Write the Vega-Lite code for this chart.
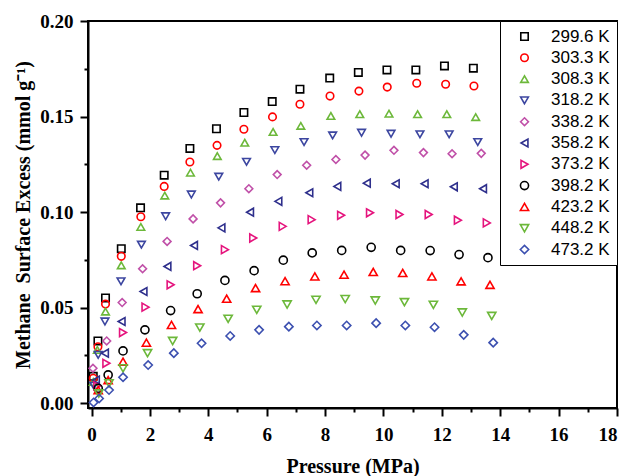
{
  "$schema": "https://vega.github.io/schema/vega-lite/v6.json",
  "width": 529,
  "height": 387,
  "autosize": {"type": "none"},
  "padding": {"left": 88, "top": 21, "right": 11, "bottom": 68},
  "background": "white",
  "config": {
    "view": {"stroke": "black", "strokeWidth": 2},
    "axis": {
      "grid": false,
      "domainColor": "black",
      "domainWidth": 2,
      "tickColor": "black",
      "tickWidth": 2,
      "tickSize": 8,
      "labelFont": "Liberation Serif",
      "labelFontWeight": "bold",
      "labelFontSize": 19,
      "labelColor": "black",
      "titleFont": "Liberation Serif",
      "titleFontWeight": "bold",
      "titleFontSize": 20,
      "titleColor": "black"
    }
  },
  "data": {
    "values": [
      {"T": "299.6 K", "P": 0.06, "E": 0.014}, {"T": "299.6 K", "P": 0.22, "E": 0.0325}, {"T": "299.6 K", "P": 0.48, "E": 0.055}, {"T": "299.6 K", "P": 1.02, "E": 0.0808}, {"T": "299.6 K", "P": 1.68, "E": 0.1022}, {"T": "299.6 K", "P": 2.49, "E": 0.1193}, {"T": "299.6 K", "P": 3.37, "E": 0.1333}, {"T": "299.6 K", "P": 4.28, "E": 0.1436}, {"T": "299.6 K", "P": 5.22, "E": 0.1521}, {"T": "299.6 K", "P": 6.19, "E": 0.1578}, {"T": "299.6 K", "P": 7.14, "E": 0.1643}, {"T": "299.6 K", "P": 8.16, "E": 0.1701}, {"T": "299.6 K", "P": 9.14, "E": 0.1731}, {"T": "299.6 K", "P": 10.12, "E": 0.1744}, {"T": "299.6 K", "P": 11.11, "E": 0.1744}, {"T": "299.6 K", "P": 12.09, "E": 0.1765}, {"T": "299.6 K", "P": 13.08, "E": 0.1753},
      {"T": "303.3 K", "P": 0.06, "E": 0.013}, {"T": "303.3 K", "P": 0.22, "E": 0.0295}, {"T": "303.3 K", "P": 0.48, "E": 0.0518}, {"T": "303.3 K", "P": 1.02, "E": 0.0768}, {"T": "303.3 K", "P": 1.69, "E": 0.0975}, {"T": "303.3 K", "P": 2.49, "E": 0.1134}, {"T": "303.3 K", "P": 3.37, "E": 0.1262}, {"T": "303.3 K", "P": 4.3, "E": 0.1349}, {"T": "303.3 K", "P": 5.22, "E": 0.1433}, {"T": "303.3 K", "P": 6.2, "E": 0.1498}, {"T": "303.3 K", "P": 7.14, "E": 0.1564}, {"T": "303.3 K", "P": 8.17, "E": 0.1607}, {"T": "303.3 K", "P": 9.16, "E": 0.1633}, {"T": "303.3 K", "P": 10.13, "E": 0.1654}, {"T": "303.3 K", "P": 11.14, "E": 0.1674}, {"T": "303.3 K", "P": 12.13, "E": 0.1669}, {"T": "303.3 K", "P": 13.1, "E": 0.166},
      {"T": "308.3 K", "P": 0.06, "E": 0.011}, {"T": "308.3 K", "P": 0.2, "E": 0.0278}, {"T": "308.3 K", "P": 0.48, "E": 0.0479}, {"T": "308.3 K", "P": 1.02, "E": 0.0721}, {"T": "308.3 K", "P": 1.69, "E": 0.0922}, {"T": "308.3 K", "P": 2.51, "E": 0.1086}, {"T": "308.3 K", "P": 3.39, "E": 0.1206}, {"T": "308.3 K", "P": 4.31, "E": 0.1293}, {"T": "308.3 K", "P": 5.25, "E": 0.1363}, {"T": "308.3 K", "P": 6.22, "E": 0.1419}, {"T": "308.3 K", "P": 7.17, "E": 0.1451}, {"T": "308.3 K", "P": 8.2, "E": 0.1503}, {"T": "308.3 K", "P": 9.19, "E": 0.1512}, {"T": "308.3 K", "P": 10.19, "E": 0.1515}, {"T": "308.3 K", "P": 11.17, "E": 0.1512}, {"T": "308.3 K", "P": 12.17, "E": 0.1512}, {"T": "308.3 K", "P": 13.16, "E": 0.1497},
      {"T": "318.2 K", "P": 0.08, "E": 0.009}, {"T": "318.2 K", "P": 0.23, "E": 0.0252}, {"T": "318.2 K", "P": 0.46, "E": 0.0427}, {"T": "318.2 K", "P": 1.01, "E": 0.0637}, {"T": "318.2 K", "P": 1.71, "E": 0.0829}, {"T": "318.2 K", "P": 2.54, "E": 0.0978}, {"T": "318.2 K", "P": 3.42, "E": 0.1092}, {"T": "318.2 K", "P": 4.36, "E": 0.1185}, {"T": "318.2 K", "P": 5.31, "E": 0.1263}, {"T": "318.2 K", "P": 6.28, "E": 0.1324}, {"T": "318.2 K", "P": 7.28, "E": 0.1366}, {"T": "318.2 K", "P": 8.26, "E": 0.1401}, {"T": "318.2 K", "P": 9.25, "E": 0.1415}, {"T": "318.2 K", "P": 10.26, "E": 0.141}, {"T": "318.2 K", "P": 11.25, "E": 0.1407}, {"T": "318.2 K", "P": 12.25, "E": 0.1407}, {"T": "318.2 K", "P": 13.23, "E": 0.1366},
      {"T": "338.2 K", "P": 0.05, "E": 0.0182}, {"T": "338.2 K", "P": 0.52, "E": 0.0325}, {"T": "338.2 K", "P": 1.05, "E": 0.0526}, {"T": "338.2 K", "P": 1.75, "E": 0.0703}, {"T": "338.2 K", "P": 2.59, "E": 0.0846}, {"T": "338.2 K", "P": 3.48, "E": 0.0964}, {"T": "338.2 K", "P": 4.42, "E": 0.1048}, {"T": "338.2 K", "P": 5.39, "E": 0.1122}, {"T": "338.2 K", "P": 6.36, "E": 0.1196}, {"T": "338.2 K", "P": 7.37, "E": 0.1245}, {"T": "338.2 K", "P": 8.37, "E": 0.1275}, {"T": "338.2 K", "P": 9.37, "E": 0.1298}, {"T": "338.2 K", "P": 10.36, "E": 0.1323}, {"T": "338.2 K", "P": 11.37, "E": 0.1311}, {"T": "338.2 K", "P": 12.35, "E": 0.1305}, {"T": "338.2 K", "P": 13.35, "E": 0.1307},
      {"T": "358.2 K", "P": 0.15, "E": 0.012}, {"T": "358.2 K", "P": 0.46, "E": 0.0261}, {"T": "358.2 K", "P": 1.03, "E": 0.0427}, {"T": "358.2 K", "P": 1.78, "E": 0.0584}, {"T": "358.2 K", "P": 2.6, "E": 0.0715}, {"T": "358.2 K", "P": 3.51, "E": 0.0825}, {"T": "358.2 K", "P": 4.45, "E": 0.0917}, {"T": "358.2 K", "P": 5.43, "E": 0.0999}, {"T": "358.2 K", "P": 6.4, "E": 0.1056}, {"T": "358.2 K", "P": 7.46, "E": 0.1101}, {"T": "358.2 K", "P": 8.42, "E": 0.1134}, {"T": "358.2 K", "P": 9.43, "E": 0.1151}, {"T": "358.2 K", "P": 10.42, "E": 0.1148}, {"T": "358.2 K", "P": 11.41, "E": 0.1148}, {"T": "358.2 K", "P": 12.41, "E": 0.1132}, {"T": "358.2 K", "P": 13.41, "E": 0.1122},
      {"T": "373.2 K", "P": 0.2, "E": 0.009}, {"T": "373.2 K", "P": 0.51, "E": 0.0208}, {"T": "373.2 K", "P": 1.08, "E": 0.0369}, {"T": "373.2 K", "P": 1.85, "E": 0.0502}, {"T": "373.2 K", "P": 2.71, "E": 0.0619}, {"T": "373.2 K", "P": 3.62, "E": 0.0719}, {"T": "373.2 K", "P": 4.57, "E": 0.0803}, {"T": "373.2 K", "P": 5.54, "E": 0.0864}, {"T": "373.2 K", "P": 6.55, "E": 0.0925}, {"T": "373.2 K", "P": 7.54, "E": 0.096}, {"T": "373.2 K", "P": 8.55, "E": 0.0983}, {"T": "373.2 K", "P": 9.54, "E": 0.0996}, {"T": "373.2 K", "P": 10.55, "E": 0.0987}, {"T": "373.2 K", "P": 11.55, "E": 0.0987}, {"T": "373.2 K", "P": 12.55, "E": 0.0957}, {"T": "373.2 K", "P": 13.54, "E": 0.0943},
      {"T": "398.2 K", "P": 0.23, "E": 0.0077}, {"T": "398.2 K", "P": 0.57, "E": 0.0147}, {"T": "398.2 K", "P": 1.08, "E": 0.0273}, {"T": "398.2 K", "P": 1.83, "E": 0.0383}, {"T": "398.2 K", "P": 2.71, "E": 0.0484}, {"T": "398.2 K", "P": 3.62, "E": 0.0572}, {"T": "398.2 K", "P": 4.57, "E": 0.0642}, {"T": "398.2 K", "P": 5.57, "E": 0.0693}, {"T": "398.2 K", "P": 6.57, "E": 0.0748}, {"T": "398.2 K", "P": 7.56, "E": 0.0786}, {"T": "398.2 K", "P": 8.57, "E": 0.0799}, {"T": "398.2 K", "P": 9.58, "E": 0.0815}, {"T": "398.2 K", "P": 10.59, "E": 0.0799}, {"T": "398.2 K", "P": 11.6, "E": 0.0798}, {"T": "398.2 K", "P": 12.59, "E": 0.0777}, {"T": "398.2 K", "P": 13.58, "E": 0.0761},
      {"T": "423.2 K", "P": 0.23, "E": 0.0068}, {"T": "423.2 K", "P": 0.57, "E": 0.012}, {"T": "423.2 K", "P": 1.08, "E": 0.0217}, {"T": "423.2 K", "P": 1.88, "E": 0.0316}, {"T": "423.2 K", "P": 2.74, "E": 0.0409}, {"T": "423.2 K", "P": 3.65, "E": 0.0492}, {"T": "423.2 K", "P": 4.63, "E": 0.0546}, {"T": "423.2 K", "P": 5.62, "E": 0.0602}, {"T": "423.2 K", "P": 6.63, "E": 0.0638}, {"T": "423.2 K", "P": 7.65, "E": 0.0663}, {"T": "423.2 K", "P": 8.65, "E": 0.0672}, {"T": "423.2 K", "P": 9.65, "E": 0.0686}, {"T": "423.2 K", "P": 10.66, "E": 0.0681}, {"T": "423.2 K", "P": 11.66, "E": 0.0663}, {"T": "423.2 K", "P": 12.66, "E": 0.0637}, {"T": "423.2 K", "P": 13.65, "E": 0.0619},
      {"T": "448.2 K", "P": 0.25, "E": 0.005}, {"T": "448.2 K", "P": 0.6, "E": 0.0103}, {"T": "448.2 K", "P": 1.08, "E": 0.0182}, {"T": "448.2 K", "P": 1.92, "E": 0.0261}, {"T": "448.2 K", "P": 2.78, "E": 0.0325}, {"T": "448.2 K", "P": 3.71, "E": 0.0395}, {"T": "448.2 K", "P": 4.68, "E": 0.0441}, {"T": "448.2 K", "P": 5.66, "E": 0.0488}, {"T": "448.2 K", "P": 6.7, "E": 0.0516}, {"T": "448.2 K", "P": 7.69, "E": 0.054}, {"T": "448.2 K", "P": 8.69, "E": 0.0544}, {"T": "448.2 K", "P": 9.72, "E": 0.0537}, {"T": "448.2 K", "P": 10.72, "E": 0.0528}, {"T": "448.2 K", "P": 11.71, "E": 0.0514}, {"T": "448.2 K", "P": 12.7, "E": 0.0474}, {"T": "448.2 K", "P": 13.71, "E": 0.0456},
      {"T": "473.2 K", "P": 0.07, "E": 0.0003}, {"T": "473.2 K", "P": 0.26, "E": 0.0024}, {"T": "473.2 K", "P": 0.6, "E": 0.0068}, {"T": "473.2 K", "P": 1.08, "E": 0.0135}, {"T": "473.2 K", "P": 1.94, "E": 0.0199}, {"T": "473.2 K", "P": 2.82, "E": 0.0261}, {"T": "473.2 K", "P": 3.77, "E": 0.0313}, {"T": "473.2 K", "P": 4.75, "E": 0.0351}, {"T": "473.2 K", "P": 5.74, "E": 0.0383}, {"T": "473.2 K", "P": 6.76, "E": 0.04}, {"T": "473.2 K", "P": 7.72, "E": 0.0406}, {"T": "473.2 K", "P": 8.74, "E": 0.0406}, {"T": "473.2 K", "P": 9.75, "E": 0.0418}, {"T": "473.2 K", "P": 10.75, "E": 0.0406}, {"T": "473.2 K", "P": 11.75, "E": 0.0397}, {"T": "473.2 K", "P": 12.75, "E": 0.0357}, {"T": "473.2 K", "P": 13.76, "E": 0.0316}
    ]
  },
  "layer": [
    {
      "mark": {"type": "point", "filled": false, "strokeWidth": 1.6, "opacity": 1},
      "encoding": {
        "x": {
          "field": "P", "type": "quantitative",
          "scale": {"domain": [-0.12, 18], "nice": false, "zero": false},
          "axis": {"orient": "bottom", "values": [0, 2, 4, 6, 8, 10, 12, 14, 16, 18], "title": "Pressure (MPa)", "labelPadding": 9, "titlePadding": 12}
        },
        "y": {
          "field": "E", "type": "quantitative",
          "scale": {"domain": [-0.0026, 0.2], "nice": false, "zero": false},
          "axis": {"orient": "left", "values": [0, 0.05, 0.1, 0.15, 0.2], "format": ".2f", "title": "Methane\u00a0 Surface Excess (mmol g\u207b\u00b9)", "labelPadding": 7, "titlePadding": 6}
        },
        "shape": {
          "field": "T", "type": "nominal",
          "scale": {
            "domain": ["299.6 K", "303.3 K", "308.3 K", "318.2 K", "338.2 K", "358.2 K", "373.2 K", "398.2 K", "423.2 K", "448.2 K", "473.2 K"],
            "range": ["square", "circle", "triangle-up", "triangle-down", "diamond", "triangle-left", "triangle-right", "circle", "triangle-up", "triangle-down", "diamond"]
          },
          "legend": {
            "title": null, "orient": "top-right", "offset": 0,
            "strokeColor": "black", "padding": 7, "symbolOffset": 9, "labelOffset": 18, "rowPadding": 3.3,
            "labelFont": "Liberation Sans", "labelFontSize": 17, "labelColor": "black",
            "symbolSize": 45, "symbolStrokeWidth": 1.6, "fillColor": "white",
            "encode": {"legend": {"update": {"strokeWidth": {"value": 1.5}}}}
          }
        },
        "color": {
          "field": "T", "type": "nominal",
          "scale": {
            "domain": ["299.6 K", "303.3 K", "308.3 K", "318.2 K", "338.2 K", "358.2 K", "373.2 K", "398.2 K", "423.2 K", "448.2 K", "473.2 K"],
            "range": ["#000000", "#ff0000", "#6cb83a", "#3c46a0", "#c050a8", "#2e2f8c", "#e5147d", "#000000", "#ff0000", "#6cb83a", "#3c50b0"]
          },
          "legend": {
            "title": null, "orient": "top-right", "offset": 0,
            "strokeColor": "black", "padding": 7, "symbolOffset": 9, "labelOffset": 18, "rowPadding": 3.3,
            "labelFont": "Liberation Sans", "labelFontSize": 17, "labelColor": "black",
            "symbolSize": 45, "symbolStrokeWidth": 1.6, "fillColor": "white",
            "encode": {"legend": {"update": {"strokeWidth": {"value": 1.5}}}}
          }
        },
        "size": {
          "field": "T", "type": "nominal",
          "scale": {
            "domain": ["299.6 K", "303.3 K", "308.3 K", "318.2 K", "338.2 K", "358.2 K", "373.2 K", "398.2 K", "423.2 K", "448.2 K", "473.2 K"],
            "range": [55, 70, 100, 100, 81, 100, 100, 70, 100, 100, 81]
          },
          "legend": null
        }
      }
    },
    {
      "mark": {"type": "point", "opacity": 0},
      "encoding": {
        "x": {
          "field": "P", "type": "quantitative",
          "axis": {"orient": "bottom", "values": [1, 3, 5, 7, 9, 11, 13, 15, 17], "labels": false, "domain": false, "tickSize": 4, "title": null}
        },
        "y": {
          "field": "E", "type": "quantitative",
          "axis": {"orient": "left", "values": [0.025, 0.075, 0.125, 0.175], "labels": false, "domain": false, "tickSize": 4, "title": null}
        }
      }
    }
  ],
  "resolve": {"axis": {"x": "independent", "y": "independent"}}
}
